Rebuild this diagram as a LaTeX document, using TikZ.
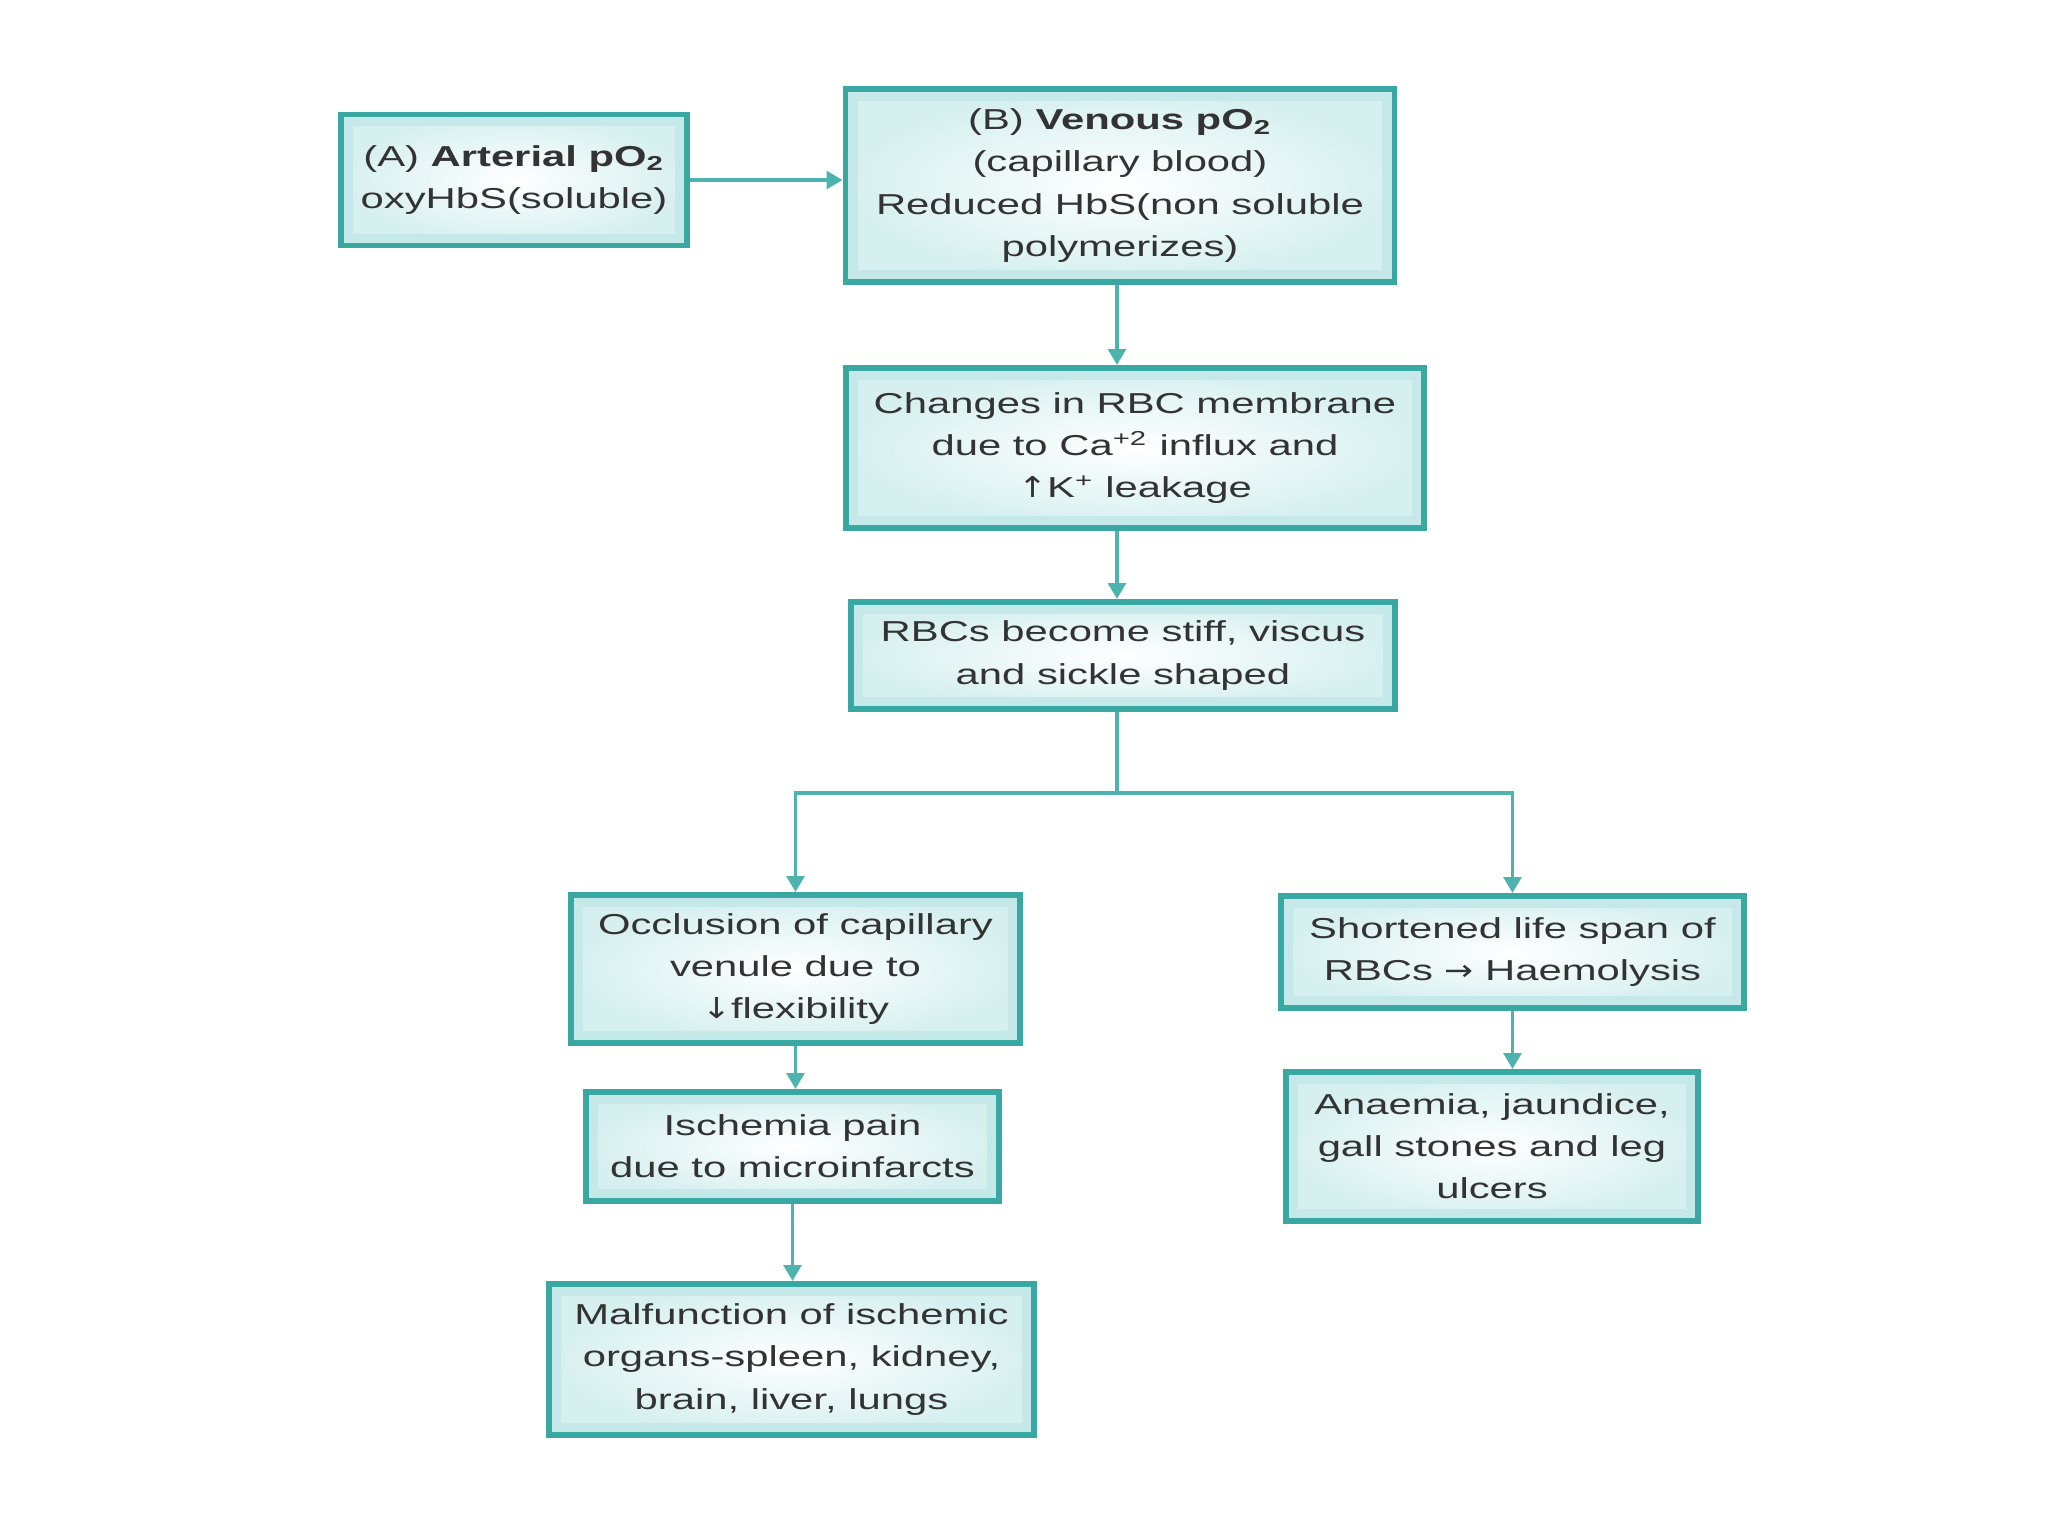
\documentclass[tikz,border=0pt]{standalone}
\usepackage{fontspec}
\setmainfont{Liberation Sans}[FakeStretch=1.45]
\newfontfamily\arrowfont{DejaVu Sans}[FakeStretch=1.2]
\usetikzlibrary{arrows.meta,positioning,calc}
\definecolor{frame}{HTML}{3AA8A2}
\definecolor{link}{HTML}{4DB3AE}
\definecolor{rim}{HTML}{C4E9E8}
\definecolor{ink}{HTML}{333333}
\newcommand{\up}{{\arrowfont\char"2191}}
\newcommand{\dn}{{\arrowfont\char"2193}}
\newcommand{\ra}{{\arrowfont\char"2192}}
\tikzset{>={Triangle[width=5pt,length=4.5pt]},
  every node/.style={font=\fontsize{8.2pt}{12pt}\selectfont,text=ink},
  flowbox/.style={draw=frame,line width=1.7pt,fill=rim,align=center,inner sep=0pt,
    path picture={\shade[inner color=white,outer color=rim!70]
      ([shift={(3.5pt,3.5pt)}]path picture bounding box.south west)rectangle
      ([shift={(-3.5pt,-3.5pt)}]path picture bounding box.north east);}},
  link/.style={draw=link,line width=1pt}}
\begin{document}
\begin{tikzpicture}
\useasboundingbox(0,0)rectangle(20.48,-15.36);
\node[flowbox,minimum width=3.46cm,minimum height=1.31cm](art)at(5.14,-1.8){(A) \textbf{Arterial pO\textsubscript{2}}\\oxyHbS(soluble)};
\node[flowbox,minimum width=5.49cm,minimum height=1.93cm](ven)at(11.2,-1.855){(B) \textbf{Venous pO\textsubscript{2}}\\(capillary blood)\\Reduced HbS(non soluble\\polymerizes)};
\node[flowbox,minimum width=5.78cm,minimum height=1.6cm](mem)at(11.35,-4.48){Changes in RBC membrane\\due to Ca\textsuperscript{+2} influx and\\\up K\textsuperscript{+} leakage};
\node[flowbox,minimum width=5.44cm,minimum height=1.07cm](stiff)at(11.23,-6.555){RBCs become stiff, viscus\\and sickle shaped};
\node[flowbox,minimum width=4.49cm,minimum height=1.48cm](occl)at(7.955,-9.69){Occlusion of capillary\\venule due to\\\dn flexibility};
\node[flowbox,minimum width=4.13cm,minimum height=1.09cm](isch)at(7.925,-11.465){Ischemia pain\\due to microinfarcts};
\node[flowbox,minimum width=4.85cm,minimum height=1.51cm](organ)at(7.915,-13.595){Malfunction of ischemic\\organs-spleen, kidney,\\brain, liver, lungs};
\node[flowbox,minimum width=4.63cm,minimum height=1.12cm](span)at(15.125,-9.52){Shortened life span of\\RBCs \ra\ Haemolysis};
\node[flowbox,minimum width=4.12cm,minimum height=1.49cm](anae)at(14.92,-11.465){Anaemia, jaundice,\\gall stones and leg\\ulcers};
\coordinate(split)at(11.17,-7.93);
\draw[link,->](art.east)--(art.east-|ven.west);
\draw[link,->](split|-ven.south)--(split|-mem.north);
\draw[link,->](split|-mem.south)--(split|-stiff.north);
\draw[link](split|-stiff.south)--(split);
\draw[link,->](split)-|(occl.north);\draw[link,->](split)-|(span.north);
\draw[link,->](occl.south)--(occl.south|-isch.north);
\draw[link,->](isch.south)--(isch.south|-organ.north);
\draw[link,->](span.south)--(span.south|-anae.north);
\end{tikzpicture}
\end{document}
